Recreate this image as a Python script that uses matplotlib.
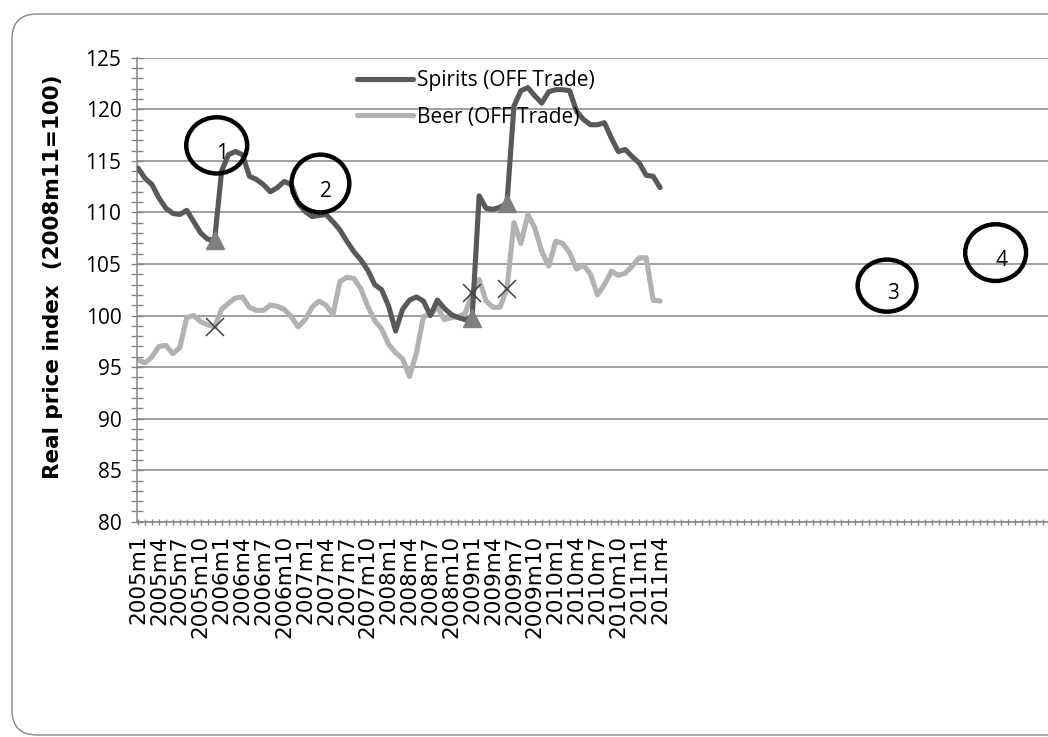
import matplotlib.pyplot as plt
import numpy as np
from matplotlib.patches import Ellipse, FancyBboxPatch
from matplotlib.transforms import IdentityTransform

# monthly real price index, 2005m1 .. 2011m4
spirits = [114.3, 113.3, 112.7, 111.4, 110.4, 109.9, 109.8, 110.2, 109.1, 108.0,
           107.4, 107.3, 114.0, 115.6, 115.9, 115.6, 113.5, 113.2, 112.7, 112.0,
           112.4, 113.0, 112.7, 110.9, 110.1, 109.6, 109.7, 109.8, 109.1, 108.3,
           107.2, 106.2, 105.4, 104.4, 103.0, 102.5, 100.9, 98.5, 100.6, 101.5,
           101.8, 101.4, 100.0, 101.5, 100.7, 100.1, 99.8, 99.6, 99.8, 111.6,
           110.4, 110.3, 110.5, 110.9, 120.3, 121.8, 122.1, 121.3, 120.6, 121.7,
           121.9, 121.9, 121.8, 119.8, 119.0, 118.5, 118.5, 118.7, 117.2, 115.9,
           116.1, 115.4, 114.8, 113.6, 113.5, 112.4]
beer = [95.7, 95.4, 96.0, 97.0, 97.1, 96.3, 96.9, 99.8, 100.0, 99.4,
        99.1, 98.9, 100.6, 101.2, 101.7, 101.8, 100.8, 100.5, 100.5, 101.0,
        100.9, 100.6, 99.9, 98.9, 99.6, 100.8, 101.4, 101.0, 100.1, 103.3,
        103.7, 103.6, 102.6, 100.9, 99.5, 98.7, 97.2, 96.4, 95.8, 94.1,
        96.4, 99.9, 100.1, 100.8, 99.6, 99.8, 99.9, 100.2, 102.2, 103.5,
        101.4, 100.8, 100.8, 102.6, 109.0, 107.0, 109.8, 108.5, 106.2, 104.8,
        107.2, 107.0, 106.1, 104.5, 104.9, 104.0, 102.0, 103.0, 104.3, 103.9,
        104.1, 104.8, 105.6, 105.6, 101.5, 101.4]

# months with a marker (triangle on spirits, cross on beer)
marked = [11, 48, 53]

# empty categories continue far to the right of the data
n_categories = 136
months = [f"{y}m{m}" for y in range(2005, 2012) for m in range(1, 13)][:len(spirits)]
tick_labels = [months[i] if i < len(months) and i % 3 == 0 else "" for i in range(n_categories)]

# numbered circles drawn on the chart: (label, x, y, width, height)
circles = [("1", 11.3, 116.5, 8.75, 5.45),
           ("2", 26.2, 112.8, 8.3, 5.6),
           ("3", 107.6, 102.9, 8.45, 5.05),
           ("4", 123.2, 106.1, 8.75, 5.5)]

grey = '#868686'

fig = plt.figure(figsize=(10.48, 7.37), dpi=100)

# rounded chart frame
frame = FancyBboxPatch((12, 2), 1100, 721,
                       boxstyle="round,pad=0,rounding_size=25",
                       transform=IdentityTransform(),
                       facecolor='none', edgecolor=grey, linewidth=1.0)
fig.add_artist(frame)

ax = fig.add_axes([0.1304, 0.292, 0.898, 0.6297])

x = np.arange(len(spirits))
ax.plot(x, spirits, color='#595959', linewidth=3.7, label='Spirits (OFF Trade)',
        solid_capstyle='round', solid_joinstyle='round', zorder=3)
ax.plot(x, beer, color='#b2b2b2', linewidth=3.7, label='Beer (OFF Trade)',
        solid_capstyle='round', solid_joinstyle='round', zorder=2)

ax.plot(marked, [spirits[i] for i in marked], linestyle='none', marker='^',
        markersize=13, color='#7f7f7f', zorder=4)
ax.plot(marked, [beer[i] for i in marked], linestyle='none', marker='x',
        markersize=13, markeredgewidth=1.1, color='#404040', zorder=4)

for label, cx, cy, w, h in circles:
    ax.add_patch(Ellipse((cx, cy), w, h, facecolor='none', edgecolor='black',
                         linewidth=3.2, zorder=5, clip_on=False))
    ax.text(cx + 0.8, cy - 0.8, label, fontsize=15, family='Open Sans',
            ha='center', va='center', zorder=6)

ax.set_xlim(-0.2, n_categories - 1)
ax.set_ylim(80, 125)

ax.set_xticks(range(n_categories))
ax.set_xticklabels(tick_labels, rotation=90, fontsize=15.5, family='DejaVu Sans')
ax.set_yticks(range(80, 126, 5))
ax.set_yticks(range(80, 126), minor=True)
for t in ax.get_yticklabels():
    t.set_family('Open Sans')
    t.set_fontsize(15)

ax.tick_params(axis='x', direction='inout', length=5, width=1, color=grey, pad=7)
ax.tick_params(axis='y', which='both', direction='inout', length=8, width=1,
               color=grey, pad=7)

ax.grid(axis='y', color=grey, linewidth=1.1)
ax.set_axisbelow(True)
for side in ['top', 'right']:
    ax.spines[side].set_visible(False)
for side in ['left', 'bottom']:
    ax.spines[side].set_color(grey)
    ax.spines[side].set_linewidth(1.1)

ax.set_ylabel("Real price index  (2008m11=100)", fontsize=15.5,
              fontweight='bold', family='DejaVu Sans')
ax.yaxis.set_label_coords(-0.078, 0.528)

ax.legend(loc='upper left', bbox_to_anchor=(0.3406, 0.905),
          bbox_transform=fig.transFigure, frameon=False,
          prop={'family': 'Open Sans', 'size': 15},
          handlelength=2.7, handletextpad=0.2, labelspacing=0.75,
          borderpad=0, borderaxespad=0)

plt.savefig('out.png', dpi=100)
